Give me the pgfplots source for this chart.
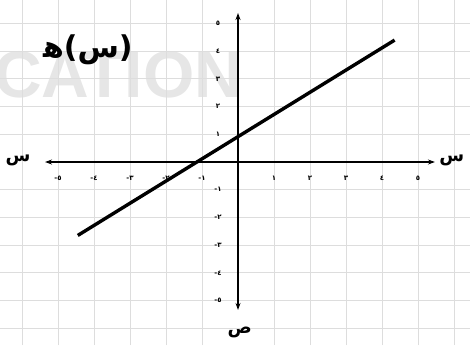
\documentclass[border=0pt]{standalone}
\usepackage{fontspec}
\setmainfont{Liberation Sans}
\newfontfamily\arabicfont[Script=Arabic]{DejaVu Sans}
\usepackage{pgfplots}
\pgfplotsset{compat=1.18}
\usetikzlibrary{arrows.meta}
\definecolor{gridgray}{HTML}{DDDDDD}
\definecolor{wmgray}{HTML}{E6E6E6}
\begin{document}
\begin{tikzpicture}
\begin{axis}[
  set layers,
  scale only axis, width=470pt, height=345pt,
  xmin=-6.611, xmax=6.444, ymin=-6.606, ymax=5.848,
  axis lines=middle, axis line style={draw=none},
  major tick length=0pt,
  xtick={-6,-5,-4,-3,-2,-1,0,1,2,3,4,5,6},
  ytick={-6,-5,-4,-3,-2,-1,0,1,2,3,4,5},
  xticklabels={,٥-,٤-,٣-,٢-,١-,,١,٢,٣,٤,٥,},
  yticklabels={,٥-,٤-,٣-,٢-,١-,,١,٢,٣,٤,٥},
  xticklabel style={font=\arabicfont\bfseries\fontsize{7}{8}\selectfont, anchor=center, yshift=-16pt},
  yticklabel style={font=\arabicfont\bfseries\fontsize{7}{8}\selectfont, anchor=center, xshift=-20pt},
  grid=major, grid style={gridgray, line width=0.8pt},
  clip=false,
]
\begin{pgfonlayer}{axis background}
\node[font=\fontsize{66}{70}\selectfont\bfseries, text=wmgray] at (axis cs:-3.33,3.14) {CATION};
\end{pgfonlayer}
\addplot[black, line width=1.6pt, -{Stealth[length=7pt,width=5pt]}] coordinates {(0,0) (5.47,0)};
\addplot[black, line width=1.6pt, -{Stealth[length=7pt,width=5pt]}] coordinates {(0,0) (-5.36,0)};
\addplot[black, line width=1.6pt, -{Stealth[length=7pt,width=5pt]}] coordinates {(0,0) (0,5.38)};
\addplot[black, line width=1.6pt, -{Stealth[length=7pt,width=5pt]}] coordinates {(0,0) (0,-5.34)};
\addplot[black, line width=3.4pt] coordinates {(-4.45,-2.65) (4.35,4.40)};
\node[font=\arabicfont\bfseries\fontsize{18}{19}\selectfont] at (axis cs:-6.11,0.07) {س};
\node[font=\arabicfont\bfseries\fontsize{18}{19}\selectfont] at (axis cs:5.94,0.07) {س};
\node[font=\arabicfont\bfseries\fontsize{18}{19}\selectfont] at (axis cs:0.0,6.05) {ص};
\node[font=\arabicfont\bfseries\fontsize{18}{19}\selectfont] at (axis cs:0.05,-6.17) {ص};
\node[font=\arabicfont\bfseries\fontsize{30}{32}\selectfont] at (axis cs:-4.17,4.04) {(س)ﻫ};
\end{axis}
\pgfresetboundingbox
\useasboundingbox (current axis.south west) rectangle (current axis.north east);
\end{tikzpicture}
\end{document}
